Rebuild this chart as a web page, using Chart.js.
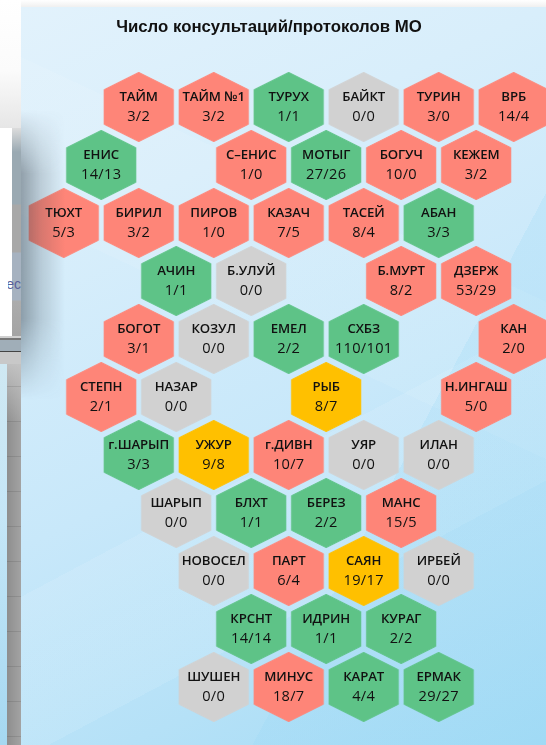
<!DOCTYPE html>
<html lang="ru">
<head>
<meta charset="utf-8">
<title>Число консультаций/протоколов МО</title>
<style>
html,body{margin:0;padding:0;width:546px;height:745px;overflow:hidden;background:#fff}
.abs{position:absolute}
#topShade{left:0;top:0;width:21px;height:128px;background:linear-gradient(to bottom,#fff 0,#fbfbfb 55%,#e6e6e6 100%)}
#topEdge{left:21px;top:0;width:525px;height:7px;background:linear-gradient(to bottom,#fff,#f0f0f0)}
#strip{left:0;top:128px;width:21px;height:237px;background:linear-gradient(to bottom,#dcdcdc 0,#9aa9b2 24px,#9aa9b2 76px,#a8a8a8 77px,#a8a8a8 124px,#a6b2c0 125px,#a6b2c0 172px,#acacac 173px,#a4a4a4 208px,#d0d0d0 208px,#d0d0d0 210px,#777 210px,#777 212px,#a0aeb8 212px,#a0aeb8 223px,#444 223px,#444 224px,#c8c8c8 224px,#c8c8c8 237px)}
#whitebox{left:0;top:128px;width:12px;height:208px;background:#fff}
#ec{left:8px;top:276px;width:13px;overflow:hidden;font:14px "Liberation Sans",sans-serif;color:#5a5f9a;direction:rtl}
#leftPanel{left:0;top:364px;width:7px;height:381px;background:linear-gradient(to bottom,#cfe8f2 0,#c5e6f7 40%,#a5d8f1 100%)}
#greyStack{left:7px;top:364px;width:14px;height:381px;background:linear-gradient(to bottom,rgba(200,200,200,.85) 0,rgba(200,200,200,0) 60px),linear-gradient(to right,#8e8e8e,#a3a3a3)}
#greyLines{left:7px;top:364px;width:14px;height:381px;background:repeating-linear-gradient(to bottom,transparent 0,transparent 22px,rgba(0,0,0,.1) 22px,rgba(0,0,0,.1) 23px,transparent 23px,transparent 35px)}
#panel{left:21px;top:7px;width:525px;height:738px;
background:
 linear-gradient(118deg,transparent 0,transparent 68%,rgba(150,215,245,.22) 68%,rgba(150,215,245,.22) 100%),
 linear-gradient(152deg,transparent 0,transparent 58%,rgba(255,255,255,.10) 58%,rgba(255,255,255,.10) 74%,transparent 74%),
 linear-gradient(205deg,transparent 0,transparent 30%,rgba(255,255,255,.08) 30%,rgba(255,255,255,.08) 46%,transparent 46%),
 linear-gradient(155deg,#e2f2fc 0,#d8eefb 25%,#c8e8fa 55%,#b5e1f7 80%,#a3dbf5 100%)}
#wrap{left:-8px;top:0;width:554px;height:745px}
#shade{left:21px;top:110px;width:44px;height:290px;pointer-events:none;
background:linear-gradient(to right,rgba(55,65,75,.46) 0,rgba(55,65,75,.2) 45%,rgba(55,65,75,0) 100%);
-webkit-mask-image:linear-gradient(to bottom,transparent 0,#000 22%,#000 72%,transparent 100%);
mask-image:linear-gradient(to bottom,transparent 0,#000 22%,#000 72%,transparent 100%)}
canvas{display:block;filter:blur(.35px)}
</style>
</head>
<body>
<div class="abs" id="topShade"></div>
<div class="abs" id="topEdge"></div>
<div class="abs" id="strip"></div>
<div class="abs" id="whitebox"></div>
<div class="abs" id="ec">ес</div>
<div class="abs" id="leftPanel"></div>
<div class="abs" id="greyStack"></div>
<div class="abs" id="greyLines"></div>
<div class="abs" id="panel"></div>
<div class="abs" id="wrap"><canvas id="chart" width="554" height="745"></canvas></div>
<div class="abs" id="shade"></div>
<script src="https://cdn.jsdelivr.net/npm/chart.js@4/dist/chart.umd.min.js"></script>
<script>
const chartTitle = "Число консультаций/протоколов МО";
const districts = ["ТАЙМ","ТАЙМ №1","ТУРУХ","БАЙКТ","ТУРИН","ВРБ",
  "ЕНИС","С–ЕНИС","МОТЫГ","БОГУЧ","КЕЖЕМ",
  "ТЮХТ","БИРИЛ","ПИРОВ","КАЗАЧ","ТАСЕЙ","АБАН",
  "АЧИН","Б.УЛУЙ","Б.МУРТ","ДЗЕРЖ",
  "БОГОТ","КОЗУЛ","ЕМЕЛ","СХБЗ","КАН",
  "СТЕПН","НАЗАР","РЫБ","Н.ИНГАШ",
  "г.ШАРЫП","УЖУР","г.ДИВН","УЯР","ИЛАН",
  "ШАРЫП","БЛХТ","БЕРЕЗ","МАНС",
  "НОВОСЕЛ","ПАРТ","САЯН","ИРБЕЙ",
  "КРСНТ","ИДРИН","КУРАГ",
  "ШУШЕН","МИНУС","КАРАТ","ЕРМАК"];
const consultations = [3,3,1,0,3,14, 14,1,27,10,3, 5,3,1,7,8,3, 1,0,8,53, 3,0,2,110,2, 2,0,8,5, 3,9,10,0,0, 0,1,2,15, 0,6,19,0, 14,1,2, 0,18,4,29];
const protocols     = [2,2,1,0,0,4,  13,0,26,0,2,  3,2,0,5,4,3, 1,0,2,29, 1,0,2,101,0, 1,0,7,0, 3,8,7,0,0, 0,1,2,5,  0,4,17,0, 14,1,2, 0,7,4,27];
const gridCol = [0,1,2,3,4,5, -0.5,1.5,2.5,3.5,4.5, -1,0,1,2,3,4, 0.5,1.5,3.5,4.5, 0,1,2,3,5, -0.5,0.5,2.5,4.5, 0,1,2,3,4, 0.5,1.5,2.5,3.5, 1,2,3,4, 1.5,2.5,3.5, 1,2,3,4];
const gridRow = [0,0,0,0,0,0, 1,1,1,1,1, 2,2,2,2,2,2, 3,3,3,3, 4,4,4,4,4, 5,5,5,5, 6,6,6,6,6, 7,7,7,7, 8,8,8,8, 9,9,9, 10,10,10,10];

const COLORS = {red:"#fe8578", green:"#5ec387", grey:"#d1d1d1", yellow:"#ffc000"};
function statusOf(c,p){
  if(c===0) return "grey";
  const r=p/c;
  if(r>=0.9) return "green";
  if(r>=0.85) return "yellow";
  return "red";
}
function hexSprite(color){
  const w=72,h=72,cv=document.createElement("canvas");
  cv.width=w;cv.height=h;
  const g=cv.getContext("2d"),cx=w/2,cy=h/2,rx=34.6,ry=34.6;
  g.fillStyle=color;g.strokeStyle=color;g.lineWidth=1.0;g.lineJoin="round";
  g.beginPath();
  g.moveTo(cx,cy-ry);g.lineTo(cx+rx,cy-ry/2);g.lineTo(cx+rx,cy+ry/2);
  g.lineTo(cx,cy+ry);g.lineTo(cx-rx,cy+ry/2);g.lineTo(cx-rx,cy-ry/2);g.closePath();
  g.fill();g.stroke();
  return cv;
}
const sprites = Object.fromEntries(Object.entries(COLORS).map(([k,v])=>[k,hexSprite(v)]));
const points = districts.map((d,i)=>({x:gridCol[i],y:gridRow[i],name:d,c:consultations[i],p:protocols[i]}));

const hexLabels = {
  id:"hexLabels",
  afterDatasetsDraw(chart){
    const {ctx,scales:{x,y}}=chart;
    ctx.save();
    ctx.textAlign="center";ctx.textBaseline="middle";ctx.fillStyle="#111";
    points.forEach(pt=>{
      const px=x.getPixelForValue(pt.x),py=y.getPixelForValue(pt.y);
      ctx.font='600 13.2px "Open Sans",sans-serif';
      ctx.letterSpacing="-0.1px";
      ctx.fillText(pt.name,px,py-10);
      ctx.font='500 14.6px "Open Sans",sans-serif';
      ctx.letterSpacing="0.3px";
      ctx.fillText(pt.c+"/"+pt.p,px,py+10);
    });
    ctx.restore();
  }
};

new Chart(document.getElementById("chart"),{
  type:"scatter",
  data:{datasets:[{
    label:chartTitle,
    data:points,
    pointStyle:c=>sprites[statusOf(c.raw.c,c.raw.p)],
    pointRadius:36,
    pointHoverRadius:36,
    showLine:false,
    clip:false
  }]},
  options:{
    responsive:false,
    animation:false,
    layout:{padding:0,autoPadding:false},
    plugins:{
      legend:{display:false},
      tooltip:{enabled:false},
      title:{display:true,text:chartTitle,align:"center",color:"#111",
        font:{family:'"Liberation Sans",Arial,sans-serif',size:16.8,weight:"bold",lineHeight:1.2},
        padding:{top:17,bottom:2}}
    },
    scales:{
      x:{type:"linear",display:false,min:-1.956,max:5.431},
      y:{type:"linear",display:false,reverse:true,min:-1.169,max:11}
    }
  },
  plugins:[hexLabels]
});
</script>
</body>
</html>
